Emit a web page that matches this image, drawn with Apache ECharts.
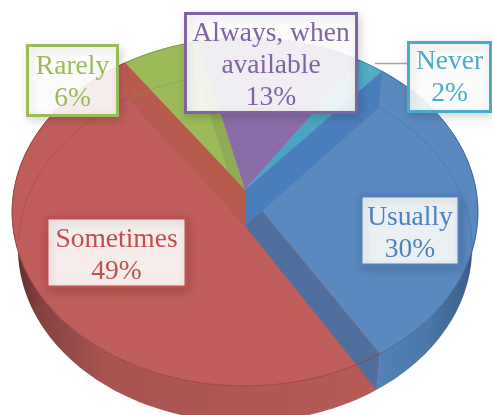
<!DOCTYPE html>
<html><head><meta charset="utf-8">
<style>html,body{margin:0;padding:0;background:#fff}#c{width:492px;height:415px}</style>
<script src="https://cdn.jsdelivr.net/npm/echarts@6/dist/echarts.min.js"></script>
</head><body><div id="c"></div>
<script>
// Data, clockwise from the Rarely/Sometimes boundary
var categories = ['Rarely', 'Always, when available', 'Never', 'Usually', 'Sometimes'];
var values = [6, 13, 2, 30, 49];
var labelLines = [['Rarely'], ['Always, when', 'available'], ['Never'], ['Usually'], ['Sometimes']];

// Style and layout
var topColors  = ['#9bbb59', '#8a6ca8', '#52adc8', '#5b89bf', '#bf5d5b'];
var bandColors = ['#8fab55', '#8a6ca8', '#4aa5c2', '#4a7dbb', '#b85a4e'];
var rimColors  = ['#7f9a48', '#6c5488', '#3d8ba0', '#41689a', '#9c4542'];
var textColors = ['#9bbb59', '#8064a2', '#4bacc6', '#4f81bd', '#c0504d'];
var boxes = [[27.5,45.5,90,70], [185.5,13.5,171,99], [408.5,42.5,82,69], [361,196,98,69], [47,218,139,69]];
var textDy = [2, 2.5, 1, 3, 3];
var startAngle = 325, depth = 36, baseScale = 0.975;
var cx = 245, cy = 190, rx = 231, ry = 171.2, k = 0.1264;

var total = values.reduce(function (a, b) { return a + b; }, 0);
var cumul = [0];
values.forEach(function (v, i) { cumul.push(cumul[i] + v); });
function ang(c) { return (startAngle + c / total * 360) * Math.PI / 180; }
function proj(a, d) {
  var u = Math.sin(a), v = -Math.cos(a), w = 1 - k * v;
  var s = d ? baseScale : 1;
  return [cx + s * rx * u / w, cy + ry * v / w + (d || 0)];
}
function arc(a0, a1, d) {
  var n = Math.max(2, Math.ceil(Math.abs(a1 - a0) / 0.02)), p = [];
  for (var i = 0; i <= n; i++) p.push(proj(a0 + (a1 - a0) * i / n, d));
  return p;
}
function range(api) {
  var i = api.value(0);
  return { i: i, a0: ang(cumul[i]), a1: ang(cumul[i + 1]) };
}
var seriesData = values.map(function (v, i) { return { name: categories[i], value: [i, v] }; });
var wallFill = [
  '#8fab55', '#8a6ca8', '#52adc8',
  { type: 'linear', x: 368, y: 0, x2: 476, y2: 0, global: true, colorStops: [
    { offset: 0, color: '#5584ba' }, { offset: .55, color: '#4c77a8' }, { offset: .9, color: '#3f628c' }, { offset: 1, color: '#2f4d70' }] },
  { type: 'linear', x: 15, y: 0, x2: 368, y2: 0, global: true, colorStops: [
    { offset: 0, color: '#5e2c2b' }, { offset: .07, color: '#85413f' }, { offset: .25, color: '#a85451' }, { offset: 1, color: '#b55a57' }] }
];

function wallItem(p, api) {
  var r = range(api);
  var pts = arc(r.a0, r.a1, 0).concat(arc(r.a1, r.a0, depth));
  return { type: 'polygon', shape: { points: pts }, style: { fill: wallFill[r.i] } };
}
function topItem(p, api) {
  var r = range(api);
  var pts = [[cx, cy]].concat(arc(r.a0, r.a1, 0));
  return { type: 'polygon', shape: { points: pts }, style: { fill: topColors[r.i], stroke: topColors[r.i], lineWidth: .5 } };
}
function bandItem(p, api) {
  var r = range(api), i = r.i, a = (i === 2) ? r.a0 : r.a1;
  var kids = [];
  var e = proj(a, 0), e2 = proj(a, depth);
  var band = [[cx, cy], e, e2, [cx, cy + depth]];
  var col = i === 3 ? '#4f6f9e' : bandColors[i];
  if (i !== 1) kids.push({ type: 'polygon', shape: { points: band }, style: { fill: col } });
  if (i === 3) {
    var q = proj(r.a0, 0), q2 = proj(r.a0, depth);
    kids.push({ type: 'polygon', shape: { points: [[cx, cy], q, q2, [cx, cy + depth]] }, style: { fill: bandColors[3] } });
  }
  return { type: 'group', children: kids };
}
function rimItem(p, api) {
  var r = range(api), kids = [];
  kids.push({ type: 'polyline', shape: { points: arc(r.a0, r.a1, 0) }, style: { fill: null, stroke: rimColors[r.i], lineWidth: 1 } });
  // back rim of the base, seen through the translucent top
  var lo = 0, hi = 0;
  if (r.i === 3) { lo = r.a0; hi = 2 * Math.PI + 100 * Math.PI / 180; }
  if (r.i === 4) { lo = 2 * Math.PI + 265 * Math.PI / 180; hi = r.a1; }
  if (r.i === 0) { lo = r.a0; hi = r.a1; }
  if (hi > lo) {
    kids.push({ type: 'polyline', shape: { points: arc(lo, hi, depth) }, style: { fill: null, stroke: rimColors[r.i], lineWidth: 1, opacity: .45 } });
  }
  return { type: 'group', children: kids };
}
function labelItem(p, api) {
  var i = api.value(0), b = boxes[i], v = api.value(1);
  var text = labelLines[i].concat([v + '%']).join('\n');
  var kids = [];
  if (i === 2) kids.push({ type: 'line', shape: { x1: b[0], y1: 63.5, x2: 375, y2: 63.5 }, style: { stroke: '#a6a6a6', lineWidth: 1.5 } });
  kids.push({ type: 'rect', shape: { x: b[0], y: b[1], width: b[2], height: b[3] },
    style: { fill: 'rgba(255,255,255,0.89)', stroke: textColors[i], lineWidth: 3,
             shadowBlur: 9, shadowColor: 'rgba(0,0,0,0.16)', shadowOffsetX: 2, shadowOffsetY: 3 } });
  kids.push({ type: 'text', x: b[0] + b[2] / 2, y: b[1] + b[3] / 2 + textDy[i],
    style: { text: text, fill: textColors[i], font: '27.5px "Liberation Serif", serif', lineHeight: 32, align: 'center', verticalAlign: 'middle' } });
  return { type: 'group', children: kids };
}
function layer(fn) {
  return { type: 'custom', coordinateSystem: 'none', renderItem: fn, data: seriesData, silent: true, animation: false, clip: false };
}
var chart = echarts.init(document.getElementById('c'), null, { renderer: 'canvas' });
chart.setOption({
  animation: false,
  backgroundColor: '#ffffff',
  series: [layer(wallItem), layer(topItem), layer(bandItem), layer(rimItem), layer(labelItem)]
});
</script>
</body></html>
